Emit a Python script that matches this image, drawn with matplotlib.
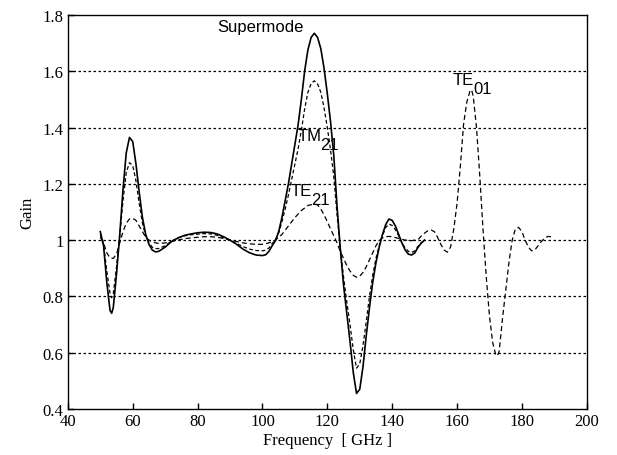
import matplotlib
matplotlib.use("Agg")
import matplotlib.pyplot as plt

# ---------------- data ----------------
sup_f = [50, 51, 52, 53, 53.5, 54, 55, 56, 57, 58, 59, 60, 61, 62, 63, 64, 65, 66, 67, 68,
         70, 72, 74, 76, 78, 80, 82, 84, 86, 88, 90, 92, 94, 96, 98, 100, 101, 102, 103,
         104, 105, 106, 107, 108, 109, 110, 111, 112, 113, 114, 115, 116, 117, 118, 119,
         120, 121, 122, 123, 124, 125, 126, 127, 128, 129, 130, 131, 132, 133, 134, 135,
         136, 137, 138, 139, 140, 141, 142, 143, 144, 145, 146, 147, 148, 149, 150]
sup_g = [1.03, 0.98, 0.85, 0.75, 0.74, 0.76, 0.88, 1.02, 1.18, 1.31, 1.365, 1.35, 1.27, 1.17,
         1.08, 1.02, 0.985, 0.965, 0.958, 0.96,
         0.975, 0.995, 1.008, 1.017, 1.022, 1.026, 1.028, 1.027, 1.022, 1.012, 1.0, 0.985,
         0.968, 0.955, 0.947, 0.945, 0.948, 0.96, 0.98,
         0.998, 1.03, 1.08, 1.14, 1.20, 1.27, 1.34, 1.41, 1.50, 1.60, 1.675, 1.72, 1.735,
         1.72, 1.68, 1.61,
         1.52, 1.42, 1.30, 1.12, 0.97, 0.84, 0.74, 0.64, 0.53, 0.455, 0.47, 0.55, 0.66,
         0.76, 0.85, 0.92,
         0.975, 1.02, 1.055, 1.075, 1.07, 1.05, 1.02, 0.99, 0.965, 0.95, 0.947, 0.955,
         0.975, 0.99, 1.0]

tm_f = sup_f
tm_g = [1.02, 0.985, 0.89, 0.81, 0.795, 0.81, 0.905, 1.015, 1.14, 1.24, 1.275, 1.265, 1.21,
        1.13, 1.06, 1.015, 0.99, 0.975, 0.97, 0.97,
        0.98, 0.997, 1.008, 1.015, 1.019, 1.021, 1.023, 1.022, 1.017, 1.008, 0.999, 0.988,
        0.977, 0.968, 0.963, 0.962, 0.964, 0.972, 0.988,
        1.0, 1.025, 1.065, 1.11, 1.16, 1.215, 1.27, 1.325, 1.39, 1.465, 1.525, 1.556,
        1.566, 1.555, 1.525, 1.47,
        1.40, 1.32, 1.225, 1.09, 0.97, 0.87, 0.78, 0.70, 0.61, 0.545, 0.56, 0.625, 0.71,
        0.80, 0.875, 0.935,
        0.98, 1.015, 1.045, 1.057, 1.052, 1.037, 1.015, 0.99, 0.972, 0.96, 0.956, 0.962,
        0.978, 0.99, 1.0]

te_f = [50, 51, 52, 53, 54, 55, 56, 57, 58, 59, 60, 61, 62, 63, 64, 65, 66, 68, 70, 72, 74,
        76, 78, 80, 82, 84, 86, 88, 90, 92, 94, 96, 98, 100, 102, 104, 106, 108, 110, 112,
        114, 116, 117, 118, 119, 120, 121, 122, 123, 124, 125, 126, 127, 128, 129, 130,
        131, 132, 133, 134, 135, 136, 137, 138, 139, 140, 142, 144, 146, 148, 149, 150,
        151, 152, 153, 154, 155, 156, 157, 158, 159, 160, 161, 162, 163, 164, 164.5, 165,
        166, 167, 168, 169, 170, 171, 172, 172.5, 173, 174, 175, 176, 177, 178, 179, 180,
        181, 182, 183, 184, 185, 186, 187, 188, 189, 189.6]
te_g = [1.01, 0.99, 0.955, 0.937, 0.935, 0.95, 0.99, 1.03, 1.06, 1.075, 1.077, 1.07, 1.05,
        1.03, 1.01, 1.0, 0.993, 0.988, 0.99, 0.995, 1.0,
        1.005, 1.008, 1.01, 1.012, 1.012, 1.01, 1.006, 1.0, 0.995, 0.99, 0.987, 0.985,
        0.985, 0.99, 1.0, 1.02, 1.05, 1.08, 1.105,
        1.123, 1.128, 1.125, 1.11, 1.09, 1.065, 1.04, 1.015, 0.99, 0.96, 0.935, 0.91,
        0.89, 0.875, 0.868, 0.872,
        0.885, 0.905, 0.93, 0.955, 0.98, 0.998, 1.008, 1.012, 1.013, 1.012, 1.006, 1.0,
        0.998, 1.002, 1.015, 1.025,
        1.033, 1.036, 1.03, 1.01, 0.985, 0.965, 0.957, 0.975, 1.04, 1.13, 1.26, 1.41,
        1.49, 1.53, 1.534, 1.51,
        1.40, 1.23, 1.04, 0.87, 0.73, 0.635, 0.59, 0.59, 0.605, 0.72, 0.82, 0.92, 1.0,
        1.04, 1.045, 1.03,
        1.0, 0.975, 0.962, 0.965, 0.98, 0.995, 1.007, 1.013, 1.012, 1.008]

x_ticks = [40, 60, 80, 100, 120, 140, 160, 180, 200]
y_ticks = [0.4, 0.6, 0.8, 1.0, 1.2, 1.4, 1.6, 1.8]
y_tick_labels = ["0.4", "0.6", "0.8", "1", "1.2", "1.4", "1.6", "1.8"]

# ---------------- figure ----------------
serif = ["Liberation Serif", "DejaVu Serif"]
sans = ["Liberation Sans", "DejaVu Sans"]

fig = plt.figure(figsize=(6.17, 4.56), dpi=100)
ax = fig.add_axes([0.110, 0.101, 0.841, 0.864])

ax.plot(sup_f, sup_g, color="black", lw=1.2, ls="-")
ax.plot(tm_f, tm_g, color="black", lw=0.9, ls=(0, (3, 2)))
ax.plot(te_f, te_g, color="black", lw=0.9, ls=(0, (4, 2.5)))

ax.set_xlim(40, 200)
ax.set_ylim(0.4, 1.8)
ax.set_xticks(x_ticks)
ax.set_yticks(y_ticks)
ax.set_yticklabels(y_tick_labels)
for lab in ax.get_xticklabels() + ax.get_yticklabels():
    lab.set_fontfamily(serif)
    lab.set_fontsize(12)
ax.tick_params(direction="in", length=4, width=1, colors="black", pad=3)
for sp in ax.spines.values():
    sp.set_linewidth(1.0)
    sp.set_color("black")

for yv in y_ticks[1:-1]:
    ax.axhline(yv, color="black", lw=0.9, ls=(0, (2, 2)), zorder=0)

ax.set_xlabel("Frequency  [ GHz ]", family=serif, fontsize=12, labelpad=2)
ax.set_ylabel("Gain", family=serif, fontsize=12, labelpad=5)

# annotations
ax.text(86.0, 1.76, "Supermode", family=sans, fontsize=12, ha="left", va="center")

def mode_label(x, y, main, sub):
    t = ax.text(x, y, main, family=sans, fontsize=12, ha="left", va="center")
    ax.annotate(sub, xy=(1.0, 0.5), xycoords=t, xytext=(-0.5, -6),
                textcoords="offset points", family=sans, fontsize=12,
                ha="left", va="center")

mode_label(110.7, 1.37, "TM", "21")
mode_label(108.8, 1.175, "TE", "21")
mode_label(158.7, 1.57, "TE", "01")

fig.savefig("out.png", dpi=100)
